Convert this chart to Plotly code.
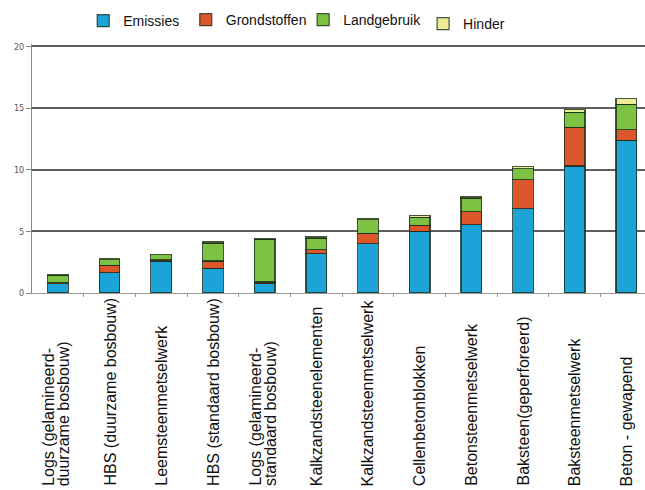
import plotly.graph_objects as go

categories = [
    "Logs (gelamineerd-|duurzame bosbouw)",
    "HBS (duurzame bosbouw)",
    "Leemsteenmetselwerk",
    "HBS (standaard bosbouw)",
    "Logs (gelamineerd-|standaard bosbouw)",
    "Kalkzandsteenelementen",
    "Kalkzandsteenmetselwerk",
    "Cellenbetonblokken",
    "Betonsteenmetselwerk",
    "Baksteen(geperforeerd)",
    "Baksteenmetselwerk",
    "Beton - gewapend",
]
emissies = [0.75, 1.65, 2.6, 2.0, 0.75, 3.2, 4.0, 5.0, 5.55, 6.85, 10.3, 12.4]
grondstoffen = [0.1, 0.6, 0.1, 0.6, 0.15, 0.3, 0.85, 0.5, 1.05, 2.35, 3.15, 0.85]
landgebruik = [0.6, 0.45, 0.4, 1.45, 3.45, 0.95, 1.1, 0.65, 1.1, 0.9, 1.2, 2.05]
hinder = [0.05, 0.1, 0.05, 0.15, 0.1, 0.1, 0.1, 0.15, 0.15, 0.15, 0.25, 0.45]
yticks = [0, 5, 10, 15, 20]

series = [
    ("Emissies", emissies, "#1ca3d8"),
    ("Grondstoffen", grondstoffen, "#dc562b"),
    ("Landgebruik", landgebruik, "#7dc242"),
    ("Hinder", hinder, "#f0eb98"),
]
# separate legend boxes to reproduce the uneven spacing of the original
legend_pos = [(0.129, 0.957), (0.288, 0.959), (0.470, 0.959), (0.656, 0.951)]
legend_ids = ["legend", "legend2", "legend3", "legend4"]

fig = go.Figure()
xs = list(range(len(categories)))
for (name, vals, col), lid in zip(series, legend_ids):
    fig.add_trace(go.Bar(
        x=xs, y=vals, name=name, legend=lid,
        marker=dict(color=col, line=dict(color="rgba(25,45,25,0.8)", width=1.2)),
        width=0.4,
    ))

layout_legends = {}
for lid, (lx, ly) in zip(legend_ids, legend_pos):
    layout_legends[lid] = dict(
        orientation="h", xref="container", yref="container",
        x=lx, xanchor="left", y=ly, yanchor="middle",
        font=dict(size=14, color="#111"), itemwidth=30,
        bgcolor="rgba(0,0,0,0)", itemclick=False,
    )

fig.update_layout(
    barmode="stack",
    width=645, height=490,
    margin=dict(l=32, r=0, t=44, b=197, autoexpand=False),
    paper_bgcolor="white", plot_bgcolor="white",
    font=dict(family="Arial, Liberation Sans, sans-serif", color="#111"),
    showlegend=True,
    **layout_legends,
)

# category labels: bottom-aligned rotated text under each bar
plot_h = 490 - 44 - 197
label_bottom = (293 - 488) / plot_h
annotations = []
for i, lab in enumerate(categories):
    parts = lab.split("|")
    shifts = [0] if len(parts) == 1 else [-10, 6]
    for part, sh in zip(parts, shifts):
        annotations.append(dict(
            x=i, xref="x", y=label_bottom, yref="paper",
            text=part, textangle=-90, showarrow=False,
            xanchor="center", yanchor="bottom", xshift=sh,
            font=dict(size=16, color="#111"),
        ))
fig.update_layout(annotations=annotations)

fig.update_xaxes(
    range=[-0.5, 11.36],
    tickmode="array", tickvals=xs, ticktext=[""] * len(xs),
    showline=True, linecolor="#999", linewidth=1,
    ticks="", showgrid=False, zeroline=False,
    minor=dict(tickvals=[i + 0.5 for i in xs], ticks="outside",
               ticklen=3, tickcolor="#999", showgrid=False),
)
fig.update_yaxes(
    range=[0, 20.2], tickvals=yticks,
    tickfont=dict(size=9, color="#555", family="DejaVu Sans Condensed, Liberation Sans Narrow, sans-serif"),
    showline=True, linecolor="#888", linewidth=1,
    ticks="outside", ticklen=5, tickcolor="#888",
    showgrid=True, gridcolor="#5e5e5e", gridwidth=1.6,
    zeroline=False,
)
fig.write_html("out.html")
